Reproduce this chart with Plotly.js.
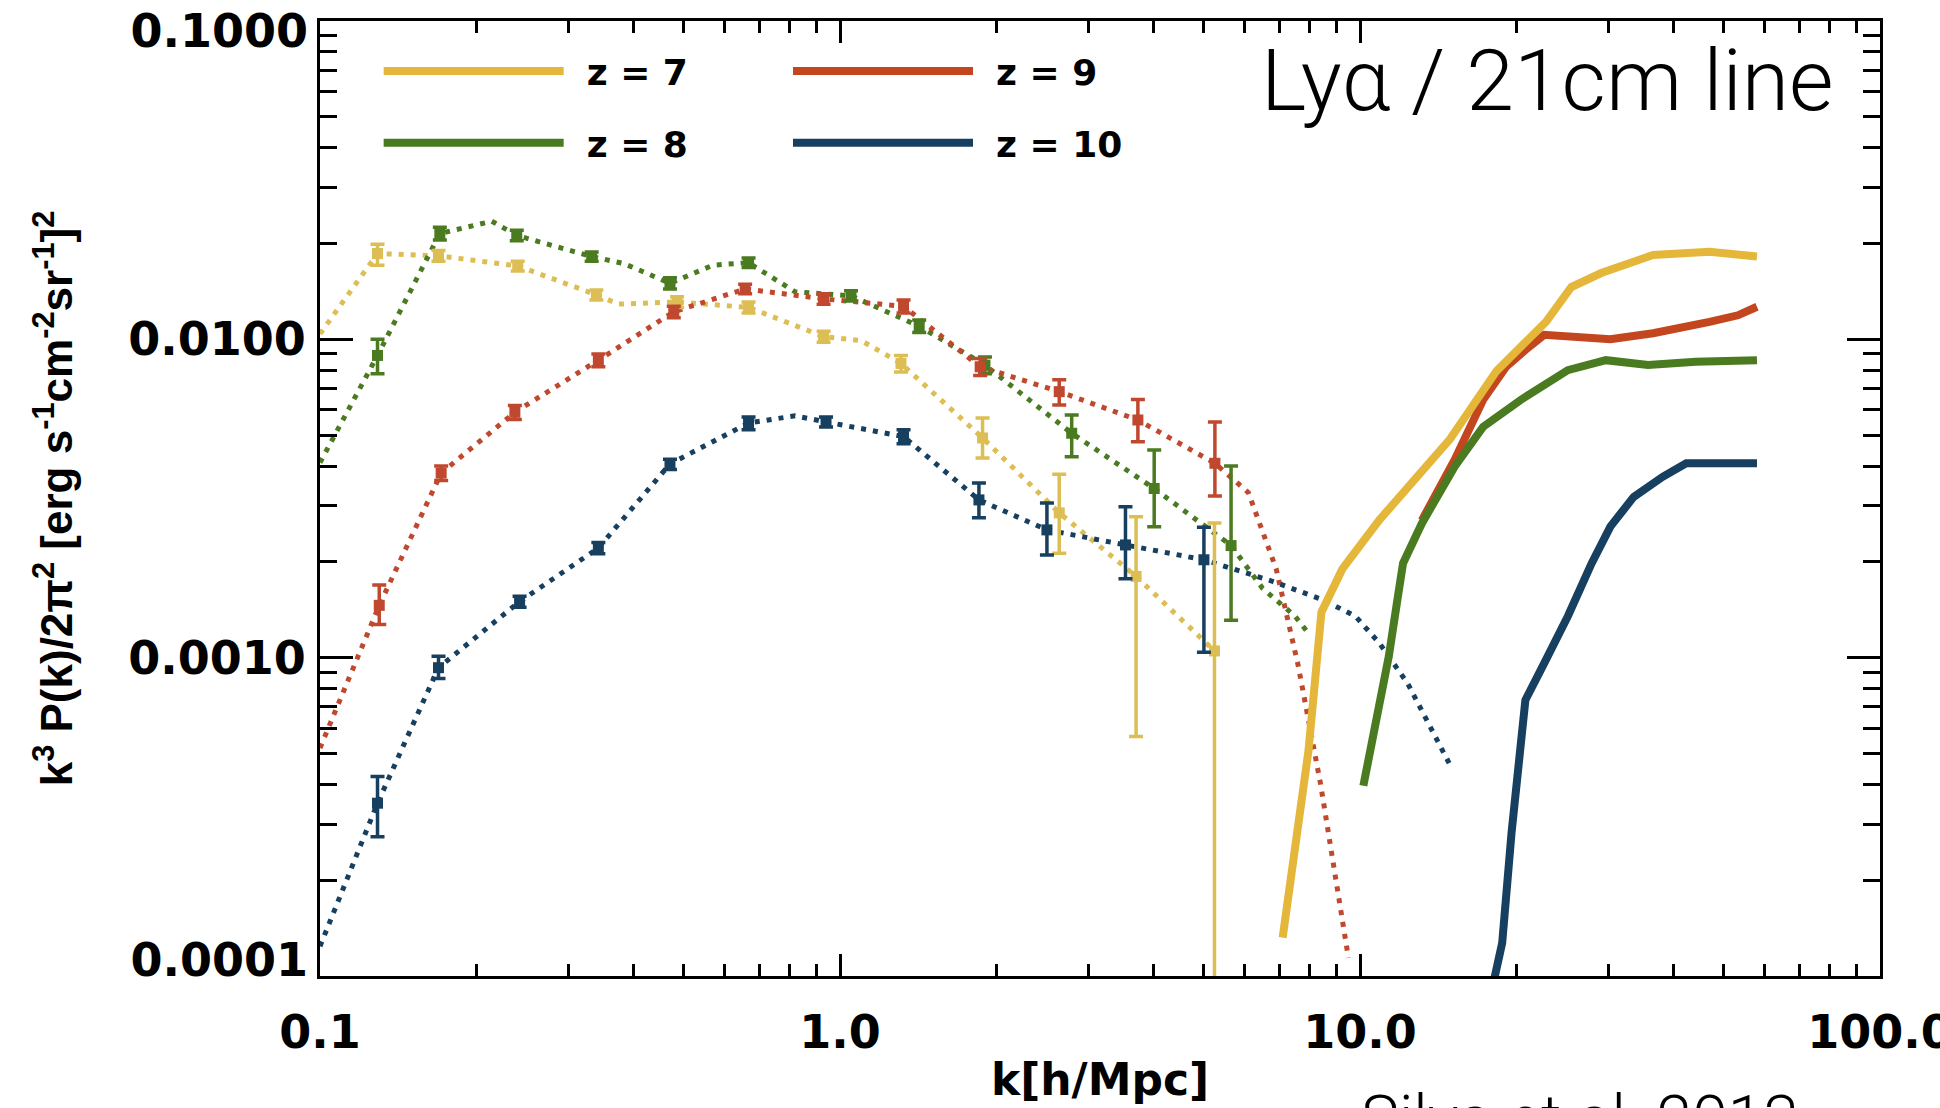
<!DOCTYPE html>
<html>
<head>
<meta charset="utf-8">
<script src="https://cdn.plot.ly/plotly-3.0.1.min.js"></script>
<style>
html,body{margin:0;padding:0;background:#ffffff;}
#chart{width:1940px;height:1108px;}
</style>
</head>
<body>
<div id="chart"></div>
<script>
// ---------- axis ticks ----------
const xTickVals = [0.1, 1, 10, 100];
const xTickText = ['0.1', '1.0', '10.0', '100.0'];
const yTickVals = [0.0001, 0.001, 0.01, 0.1];
const yTickText = ['0.0001', '0.0010', '0.0100', '0.1000'];

// ---------- series names ----------
const seriesNames = ['z = 7', 'z = 8', 'z = 9', 'z = 10'];

// ---------- z = 7 ----------
const kLine7 = [0.1, 0.129, 0.169, 0.240, 0.340, 0.375, 0.486, 0.667, 0.930, 1.10, 1.31, 1.88, 2.64, 3.71, 5.25];
const pLine7 = [0.0104, 0.0186, 0.0183, 0.0170, 0.0138, 0.0129, 0.0131, 0.0126, 0.0102, 0.0099, 0.0084, 0.0049, 0.00285, 0.0018, 0.00105];
const kMark7 = [0.129, 0.169, 0.240, 0.340, 0.486, 0.667, 0.930, 1.31, 1.88, 2.64, 3.71, 5.25];
const pMark7 = [0.0186, 0.0183, 0.0170, 0.0138, 0.0131, 0.0126, 0.0102, 0.0084, 0.0049, 0.00285, 0.0018, 0.00105];
const hi7 = [0.0199, 0.0190, 0.0176, 0.0143, 0.0136, 0.0131, 0.0106, 0.0089, 0.00566, 0.00377, 0.00277, 0.00265];
const lo7 = [0.0171, 0.0176, 0.0164, 0.0133, 0.0126, 0.0121, 0.0098, 0.0079, 0.00424, 0.00213, 0.000565, 0.00001];
const kSolid7 = [7.1, 7.96, 8.43, 9.25, 10.9, 13.2, 14.9, 18.3, 22.8, 25.5, 29.1, 36.6, 47, 58];
const pSolid7 = [0.000132, 0.00051, 0.00139, 0.0019, 0.00271, 0.00389, 0.00486, 0.00795, 0.01136, 0.0146, 0.01615, 0.0184, 0.01884, 0.0182];

// ---------- z = 8 ----------
const kLine8 = [0.1, 0.129, 0.170, 0.214, 0.239, 0.333, 0.384, 0.471, 0.57, 0.667, 0.82, 1.05, 1.42, 1.90, 2.79, 4.02, 5.65, 6.5, 7.5, 8.0];
const pLine8 = [0.0041, 0.0089, 0.0215, 0.0235, 0.0212, 0.0182, 0.0173, 0.0150, 0.0171, 0.0174, 0.0141, 0.0137, 0.0110, 0.0083, 0.00507, 0.0034, 0.00225, 0.00165, 0.00135, 0.00118];
const kMark8 = [0.129, 0.170, 0.239, 0.333, 0.471, 0.667, 1.05, 1.42, 1.90, 2.79, 4.02, 5.65];
const pMark8 = [0.0089, 0.0215, 0.0212, 0.0182, 0.0150, 0.0174, 0.0137, 0.0110, 0.0083, 0.00507, 0.0034, 0.00225];
const hi8 = [0.0100, 0.0225, 0.0220, 0.0188, 0.0156, 0.0180, 0.0142, 0.0115, 0.0088, 0.00578, 0.00449, 0.0040];
const lo8 = [0.0078, 0.0205, 0.0204, 0.0176, 0.0144, 0.0168, 0.0132, 0.0105, 0.0078, 0.00428, 0.00258, 0.00131];
const kSolid8 = [10.15, 11.1, 11.36, 11.8, 12.1, 13.15, 15.2, 17.25, 20.4, 25.1, 29.7, 35.8, 44.2, 58];
const pSolid8 = [0.000396, 0.00083, 0.00101, 0.00152, 0.00198, 0.00264, 0.00398, 0.00531, 0.00646, 0.0080, 0.0086, 0.0083, 0.0085, 0.0086];

// ---------- z = 9 ----------
const kLine9 = [0.1, 0.130, 0.171, 0.237, 0.343, 0.479, 0.657, 0.93, 1.325, 1.86, 2.64, 3.74, 5.26, 6.1, 6.9, 7.6, 8.4, 9.5];
const pLine9 = [0.00052, 0.00146, 0.0038, 0.0059, 0.0086, 0.0122, 0.0144, 0.0134, 0.0127, 0.0082, 0.00685, 0.00558, 0.00408, 0.0033, 0.0019, 0.00095, 0.0004, 0.000114];
const kMark9 = [0.130, 0.171, 0.237, 0.343, 0.479, 0.657, 0.93, 1.325, 1.86, 2.64, 3.74, 5.26];
const pMark9 = [0.00146, 0.0038, 0.0059, 0.0086, 0.0122, 0.0144, 0.0134, 0.0127, 0.0082, 0.00685, 0.00558, 0.00408];
const hi9 = [0.00169, 0.0040, 0.0062, 0.0090, 0.0127, 0.0149, 0.0139, 0.0133, 0.0087, 0.00747, 0.00647, 0.0055];
const lo9 = [0.00127, 0.0036, 0.0056, 0.0082, 0.0117, 0.0139, 0.0129, 0.0121, 0.0077, 0.00622, 0.00477, 0.00322];
const kSolid9 = [13.15, 15.2, 17.25, 19.1, 20.8, 22.6, 30.3, 36.6, 47, 53.3, 58];
const pSolid9 = [0.0027, 0.00418, 0.00646, 0.0082, 0.00926, 0.01033, 0.0100, 0.01045, 0.01135, 0.0119, 0.01266];

// ---------- z = 10 ----------
const kLine10 = [0.1, 0.129, 0.169, 0.242, 0.343, 0.471, 0.667, 0.82, 0.94, 1.325, 1.85, 2.50, 3.54, 5.01, 5.7, 6.7, 8.48, 9.8, 10.9, 12.35, 14.9];
const pLine10 = [0.000124, 0.000349, 0.00093, 0.0015, 0.00221, 0.00406, 0.00546, 0.00575, 0.0055, 0.00495, 0.00313, 0.00252, 0.00226, 0.00203, 0.0019, 0.00175, 0.00152, 0.00135, 0.00111, 0.00083, 0.00046];
const kMark10 = [0.129, 0.169, 0.242, 0.343, 0.471, 0.667, 0.94, 1.325, 1.85, 2.50, 3.54, 5.01];
const pMark10 = [0.000349, 0.00093, 0.0015, 0.00221, 0.00406, 0.00546, 0.0055, 0.00495, 0.00313, 0.00252, 0.00226, 0.00203];
const hi10 = [0.000423, 0.00101, 0.00156, 0.0023, 0.0042, 0.0057, 0.0057, 0.0052, 0.00354, 0.00306, 0.00298, 0.00257];
const lo10 = [0.000274, 0.00086, 0.00144, 0.00212, 0.0039, 0.0052, 0.0053, 0.0047, 0.00275, 0.0021, 0.00177, 0.00104];
const kSolid10 = [18.1, 18.77, 19.56, 20.4, 20.8, 22.6, 25.1, 27.9, 30.3, 33.6, 38.2, 42.4, 58];
const pSolid10 = [0.000097, 0.000127, 0.000281, 0.000513, 0.000736, 0.00096, 0.00135, 0.00198, 0.00258, 0.0032, 0.0037, 0.00408, 0.00408];

// ---------- styles ----------
const colors = ['#E4B73A', '#4B7B20', '#C4461F', '#173F5F'];
const dotColors = ['#DDBE55', '#4B7B20', '#C0482E', '#173F5F'];
const BOLD = 'DejaVu Sans, Liberation Sans, Arial, sans-serif';
const LIGHT = 'Roboto, Lato, Open Sans, Inter, sans-serif';

const series = [
  {kl:kLine7, pl:pLine7, km:kMark7, pm:pMark7, hi:hi7, lo:lo7, ks:kSolid7, ps:pSolid7, legend:'legend'},
  {kl:kLine8, pl:pLine8, km:kMark8, pm:pMark8, hi:hi8, lo:lo8, ks:kSolid8, ps:pSolid8, legend:'legend'},
  {kl:kLine9, pl:pLine9, km:kMark9, pm:pMark9, hi:hi9, lo:lo9, ks:kSolid9, ps:pSolid9, legend:'legend2'},
  {kl:kLine10, pl:pLine10, km:kMark10, pm:pMark10, hi:hi10, lo:lo10, ks:kSolid10, ps:pSolid10, legend:'legend2'}
];

const traces = [];
// dotted lines
series.forEach((s, i) => {
  traces.push({
    type:'scatter', mode:'lines', x:s.kl, y:s.pl, showlegend:false, hoverinfo:'skip',
    line:{color:dotColors[i], width:5, dash:'5px,7px'}
  });
});
// markers with error bars
series.forEach((s, i) => {
  traces.push({
    type:'scatter', mode:'markers', x:s.km, y:s.pm, showlegend:false,
    marker:{symbol:'square', size:11, color:dotColors[i]},
    error_y:{type:'data', symmetric:false,
      array:s.pm.map((v, j) => s.hi[j] - v),
      arrayminus:s.pm.map((v, j) => v - s.lo[j]),
      color:dotColors[i], thickness:3.5, width:7}
  });
});
// solid lines (legend entries)
const solidOrder = [2, 1, 0, 3];
solidOrder.forEach(i => {
  const s = series[i];
  traces.push({
    type:'scatter', mode:'lines', x:s.ks, y:s.ps, name:'\u2002' + seriesNames[i],
    legend:s.legend, legendgroup:'g' + i, legendrank:i,
    line:{color:colors[i], width:8}
  });
});
// empty carriers so the overlay label axes get drawn
['y2', 'y3'].forEach(ax => {
  traces.push({type:'scatter', mode:'lines', x:[], y:[], yaxis:ax, showlegend:false, hoverinfo:'skip'});
});

// minor tick positions (2..9 in each decade)
const xMinor = [], yMinor = [];
for (let e = -1; e < 2; e++) for (let d = 2; d < 10; d++) xMinor.push(d * Math.pow(10, e));
for (let e = -4; e < -1; e++) for (let d = 2; d < 10; d++) yMinor.push(d * Math.pow(10, e));

const tickFont = {family:BOLD, size:46, color:'#000', weight:700};
const legendFont = {family:BOLD, size:36, color:'#000', weight:700};

// inner y labels on the main axis, end labels on overlay axes nudged inward
const yMainText = yTickText.map((t, i) => (i === 0 || i === yTickText.length - 1) ? '' : t);
const yLabelStandoff = 2;

function endLabelAxis(val, text, shift) {
  return {
    overlaying:'y', anchor:'x', side:'left', type:'log', range:[-4, -1], autorange:false,
    tickmode:'array', tickvals:[val], ticktext:[text], ticks:'', showline:false,
    showgrid:false, zeroline:false, tickfont:tickFont, ticklabelstandoff:yLabelStandoff + 9,
    ticklabeloverflow:'allow', ticklabelshift:shift, fixedrange:true
  };
}

const layout = {
  width:1940, height:1108,
  margin:{l:320, r:60, t:21, b:132, pad:0},
  paper_bgcolor:'#ffffff', plot_bgcolor:'#ffffff',
  showlegend:true,
  xaxis:{
    type:'log', range:[-1, 2], autorange:false,
    tickmode:'array', tickvals:xTickVals, ticktext:xTickText,
    ticks:'inside', ticklen:22, tickwidth:3, tickcolor:'#000',
    showline:true, linewidth:3, linecolor:'#000', mirror:'ticks',
    showgrid:false, zeroline:false, tickfont:tickFont, ticklabelstandoff:14,
    ticklabeloverflow:'allow',
    minor:{tickvals:xMinor, ticks:'inside', ticklen:12, tickwidth:3, tickcolor:'#000', showgrid:false},
    title:{text:'k[h/Mpc]', font:{family:BOLD, size:44, color:'#000', weight:700}, standoff:6}
  },
  yaxis:{
    type:'log', range:[-4, -1], autorange:false,
    tickmode:'array', tickvals:yTickVals, ticktext:yMainText,
    ticks:'inside', ticklen:33, tickwidth:3, tickcolor:'#000',
    showline:true, linewidth:3, linecolor:'#000', mirror:'ticks',
    showgrid:false, zeroline:false, tickfont:tickFont, ticklabelstandoff:yLabelStandoff,
    ticklabeloverflow:'allow',
    minor:{tickvals:yMinor, ticks:'inside', ticklen:17, tickwidth:3, tickcolor:'#000', showgrid:false},
    title:{text:'k<sup>3</sup> P(k)/2π<sup>2</sup> [erg s<sup>-1</sup>cm<sup>-2</sup>sr<sup>-1</sup>]<sup>2</sup>',
      font:{family:'Liberation Sans, Arial, sans-serif', size:44, color:'#000', weight:700}, standoff:42}
  },
  yaxis2:endLabelAxis(yTickVals[yTickVals.length - 1], yTickText[yTickText.length - 1], 10),
  yaxis3:endLabelAxis(yTickVals[0], yTickText[0], -16),
  legend:{x:0.0376, xanchor:'left', y:0.979, yanchor:'top', bgcolor:'rgba(0,0,0,0)', borderwidth:0,
    font:legendFont, itemwidth:180, traceorder:'grouped', tracegroupgap:22, orientation:'v'},
  legend2:{x:0.30, xanchor:'left', y:0.979, yanchor:'top', bgcolor:'rgba(0,0,0,0)', borderwidth:0,
    font:legendFont, itemwidth:180, traceorder:'grouped', tracegroupgap:22, orientation:'v'},
  annotations:[
    {text:'Lyα / 21cm line', xref:'paper', yref:'paper', x:0.972, xanchor:'right', y:0.993, yanchor:'top',
      showarrow:false, font:{family:LIGHT, size:86, color:'#000', weight:300}},
    {text:'Silva et al. 2013', xref:'paper', yref:'paper', x:0.808, xanchor:'center', y:-0.109, yanchor:'top',
      showarrow:false, font:{family:LIGHT, size:64, color:'#000', weight:300}}
  ]
};

Plotly.newPlot('chart', traces, layout, {displayModeBar:false, staticPlot:true});
</script>
</body>
</html>
